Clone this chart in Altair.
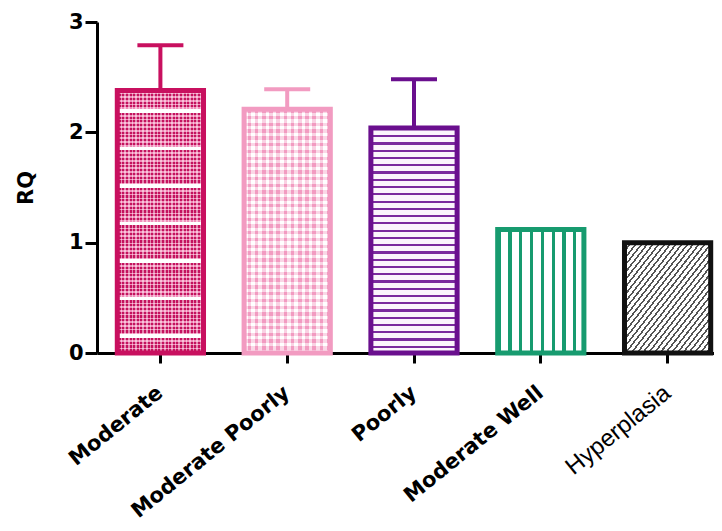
import altair as alt
import pandas as pd

categories = ["Moderate", "Moderate Poorly", "Poorly", "Moderate Well", "Hyperplasia"]
rq = [2.38, 2.21, 2.04, 1.12, 1.00]
sem = [0.41, 0.18, 0.44, 0.0, 0.0]
stroke_colors = ["#c8105f", "#f29bc1", "#6a0f8e", "#179b6f", "#111111"]
y_ticks = [0, 1, 2, 3]

df = pd.DataFrame({"cat": categories, "rq": rq, "sem": sem})
df["upper"] = df["rq"] + df["sem"]


def stripes(n, frac, c_line, c_bg, x2, y2, white_every=None):
    stops = []
    for i in range(n):
        a, b, e = i / n, (i + frac) / n, (i + 1) / n
        cl, cb = c_line, c_bg
        if white_every and i % white_every == white_every // 2:
            cl, cb = "#ffffff", "#ffffff"
        stops += [
            {"offset": round(a, 5), "color": cl},
            {"offset": round(b, 5), "color": cl},
            {"offset": round(b, 5), "color": cb},
            {"offset": round(e, 5), "color": cb},
        ]
    return {"gradient": "linear", "x1": 0, "y1": 0, "x2": x2, "y2": y2, "stops": stops}


x_enc = alt.X(
    "cat:N",
    sort=categories,
    title=None,
    scale=alt.Scale(range=[0, 634], paddingInner=0.32, paddingOuter=0.16),
    axis=alt.Axis(
        labelAngle=-39,
        labelAlign="right",
        labelBaseline="middle",
        labelPadding=27,
        labelLimit=0,
        labelColor="black",
        labelFont={"condition": {"test": "datum.value === 'Hyperplasia'", "value": "Liberation Sans"}, "value": "DejaVu Sans"},
        labelFontWeight={"condition": {"test": "datum.value === 'Hyperplasia'", "value": "normal"}, "value": "bold"},
        labelFontSize={"condition": {"test": "datum.value === 'Hyperplasia'", "value": 24}, "value": 21},
        domainColor="black",
        domainWidth=3,
        tickColor="black",
        tickWidth=3,
        tickSize=10,
        labelOverlap=False,
    ),
)
y_enc = alt.Y(
    "rq:Q",
    title="RQ",
    scale=alt.Scale(domain=[0, 3], nice=False),
    axis=alt.Axis(
        values=y_ticks,
        format="d",
        grid=False,
        labelFont="DejaVu Sans",
        labelFontWeight="bold",
        labelFontSize=21,
        labelColor="black",
        labelPadding=2,
        domainColor="black",
        domainWidth=3,
        tickColor="black",
        tickWidth=3,
        tickSize=12,
        titleFont="DejaVu Sans",
        titleFontWeight="bold",
        titleFontSize=21,
        titleColor="black",
        titlePadding=32,
    ),
)

base = alt.Chart(df).encode(x=x_enc, y=y_enc)


def bar(cat, fill, stroke=None):
    kw = dict(fill=fill)
    if stroke:
        kw.update(stroke=stroke, strokeWidth=5)
    else:
        kw.update(strokeWidth=0)
    return base.transform_filter(alt.datum.cat == cat).mark_bar(**kw)


layers = [
    # Moderate: dense dotted dark pink with white rows
    bar("Moderate", stripes(70, 0.55, "#c4125e", "#f08cb8", 0, 1, white_every=10)),
    bar("Moderate", stripes(24, 0.45, "rgba(255,255,255,0.5)", "rgba(255,255,255,0)", 1, 0), stroke_colors[0]),
    # Moderate Poorly: checker pink
    bar("Moderate Poorly", stripes(36, 0.5, "#f29bc1", "#ffffff", 0, 1)),
    bar("Moderate Poorly", stripes(12, 0.5, "rgba(255,255,255,0.6)", "rgba(242,155,193,0.45)", 1, 0), stroke_colors[1]),
    # Poorly: horizontal purple lines
    bar("Poorly", stripes(31, 0.3, "#7b2a9e", "#fbf4fc", 0, 1), stroke_colors[2]),
    # Moderate Well: vertical green lines
    bar("Moderate Well", stripes(8, 0.3, "#179b6f", "#ffffff", 1, 0), stroke_colors[3]),
    # Hyperplasia: diagonal grey hatch
    bar("Hyperplasia", stripes(30, 0.35, "#555555", "#ffffff", 1, 1), stroke_colors[4]),
]

err_base = alt.Chart(df).transform_filter(alt.datum.sem > 0)
color_scale = alt.Scale(domain=categories, range=stroke_colors)
rules = err_base.mark_rule(strokeWidth=4, opacity=1).encode(
    x=alt.X("cat:N", sort=categories),
    y="rq:Q",
    y2="upper:Q",
    color=alt.Color("cat:N", scale=color_scale, legend=None),
)
caps = err_base.mark_tick(size=46, thickness=4, opacity=1).encode(
    x=alt.X("cat:N", sort=categories),
    y="upper:Q",
    color=alt.Color("cat:N", scale=color_scale, legend=None),
)

chart = (
    alt.layer(rules, *layers, caps)
    .properties(
        width=617,
        height=331,
        autosize=alt.AutoSizeParams(type="none"),
        padding={"left": 89, "top": 14, "right": 0, "bottom": 176},
        background="white",
    )
    .configure_view(stroke=None)
)

chart.save("out.html", embed_options={"renderer": "svg", "actions": False})
